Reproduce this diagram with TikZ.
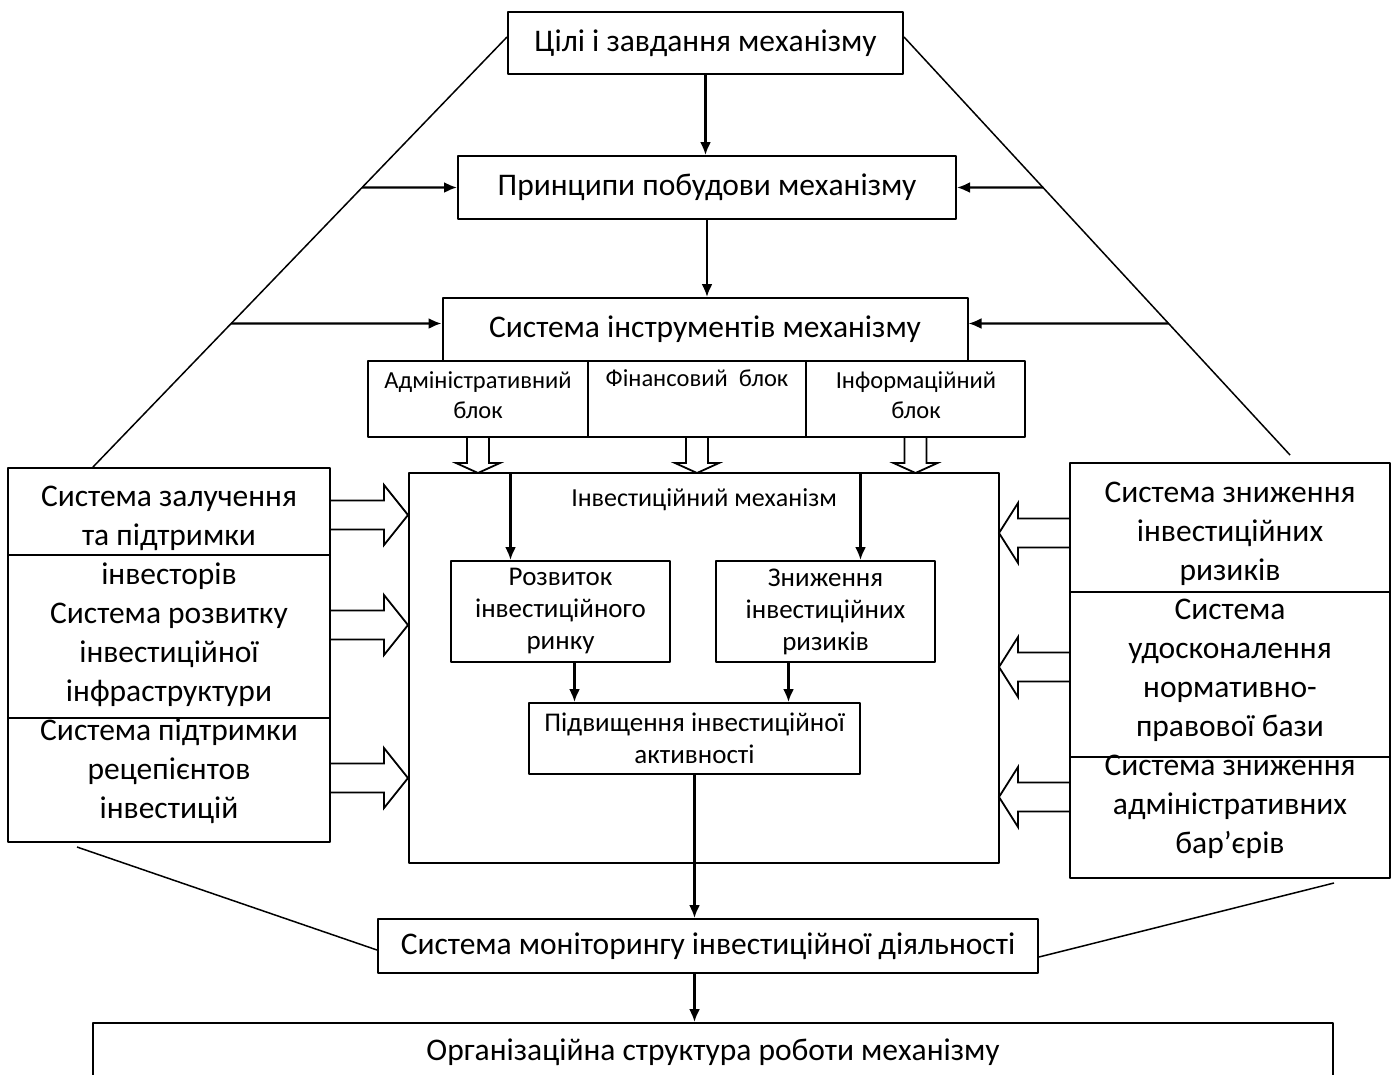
\documentclass[tikz,border=0pt]{standalone}
\usepackage{fontspec}
\setmainfont{Carlito}
\usetikzlibrary{arrows.meta,positioning}
\tikzset{
  box/.style={draw, line width=2pt, inner sep=2pt, align=center, font=\fontsize{31.5}{39}\selectfont},
  inbox/.style={draw, line width=2pt, inner sep=2pt, align=center, font=\fontsize{27}{32}\selectfont},
  small/.style={align=center, inner sep=0pt, font=\fontsize{24.5}{30}\selectfont},
  arr/.style={line width=2.2pt, -{Latex[length=13pt,width=11pt]}},
  slant/.style={line width=1.5pt},
  hollow/.pic={\draw[line width=1.8pt, line join=miter]
    (0,-\bshaft)--(\blen-\bhead,-\bshaft)--(\blen-\bhead,-\bwide)--(\blen,0)
    --(\blen-\bhead,\bwide)--(\blen-\bhead,\bshaft)--(0,\bshaft);}
}
\begin{document}
\begin{tikzpicture}[x=1pt, y=-1pt, line join=round]
\useasboundingbox (0,0) rectangle (1397,1074);
% top column of boxes
\node[box, minimum width=395pt, minimum height=62pt] (goals) at (705.5,43) {Цілі і завдання механізму};
\node[box, minimum width=498pt, minimum height=63pt] (princ) at (707,187.5) {Принципи побудови механізму};
\node[box, minimum width=525pt, minimum height=63pt] (instr) at (705,329.5) {Система інструментів механізму};
\node[draw, line width=2pt, minimum width=220pt, minimum height=76pt] (adm) at (478,399) {};
\node[draw, line width=2pt, minimum width=218pt, minimum height=76pt] (fin) at (697,399) {};
\node[draw, line width=2pt, minimum width=219pt, minimum height=76pt] (inf) at (915.5,399) {};
\node[small] (admtxt) at (478,395) {Адміністративний\\блок};
\node[small] (fintxt) at (697,378) {Фінансовий\ \ блок};
\node[small] (inftxt) at (916,395) {Інформаційний\\блок};
\draw[arr] (goals.south) -- (goals.south |- princ.north);
\draw[arr] (princ.south) -- (princ.south |- instr.north);
% mechanism
\node[draw, line width=2pt, minimum width=590pt, minimum height=390pt] (mech) at (704,668) {};
\node[font=\fontsize{26}{30}\selectfont] (mtitle) at (704,500) {Інвестиційний механізм};
\node[inbox, minimum width=219pt, minimum height=101pt] (dev) at (560.5,611.5) {Розвиток\\інвестиційного\\ринку};
\node[inbox, minimum width=219pt, minimum height=101pt] (risk) at (825.5,611.5) {Зниження\\інвестиційних\\ризиків};
\node[inbox, minimum width=331pt, minimum height=71pt] (act) at (694.5,738.5) {Підвищення інвестиційної\\активності};
\node[box, minimum width=660pt, minimum height=54pt] (mon) at (708,946) {Система моніторингу інвестиційної діяльності};
\node[box, minimum width=1240pt, minimum height=58pt] (org) at (713,1052) {Організаційна структура роботи механізму};
\coordinate (d1) at ([xshift=-50pt]dev.north);
\coordinate (r1) at ([xshift=35pt]risk.north);
\coordinate (d2) at ([xshift=14pt]dev.south);
\coordinate (r2) at ([xshift=-37pt]risk.south);
\draw[arr] (d1 |- mech.north) -- (d1);
\draw[arr] (r1 |- mech.north) -- (r1);
\draw[arr] (d2) -- (d2 |- act.north);
\draw[arr] (r2) -- (r2 |- act.north);
\draw[arr] (act.south) -- (act.south |- mon.north);
\draw[arr] (act.south |- mon.south) -- (act.south |- org.north);
% side systems
\node[box, minimum width=322pt, minimum height=374pt] (lcol) at (169,655)
  {Система залучення\\та підтримки\\інвесторів\\Система розвитку\\інвестиційної\\інфраструктури\\Система підтримки\\рецепієнтов\\інвестицій};
\node[box, minimum width=320pt, minimum height=415pt] (rcol) at (1230,670.5)
  {Система зниження\\інвестиційних\\ризиків\\Система\\удосконалення\\нормативно-\\правової бази\\Система зниження\\адміністративних\\бар’єрів};
\draw[line width=2pt] (lcol.west |- 0,555) -- (lcol.east |- 0,555) (lcol.west |- 0,718) -- (lcol.east |- 0,718);
\draw[line width=2pt] (rcol.west |- 0,592) -- (rcol.east |- 0,592) (rcol.west |- 0,757) -- (rcol.east |- 0,757);
% hollow arrows
\def\blen{35}\def\bhead{10}\def\bshaft{11}\def\bwide{22}
\foreach \c in {adm,fin,inf} \pic[rotate=-90] at (\c.south) {hollow};
\def\blen{77}\def\bhead{24}\def\bshaft{14.5}\def\bwide{30}
\foreach \y in {515,625,778} \pic at (lcol.east |- 0,\y) {hollow};
\def\blen{70}\def\bhead{19}
\foreach \y in {533,667,797} \pic[rotate=180] at (rcol.west |- 0,\y) {hollow};
% slanted lines
\coordinate (lt) at ([yshift=6pt]goals.west);
\coordinate (lb) at (lcol.north -| 93,0);
\coordinate (rt) at ([yshift=6pt]goals.east);
\coordinate (rb) at (1290,455);
\coordinate (lo) at (77,847);
\coordinate (ro) at (1334,883);
\draw[slant] (lt) -- (lb) (rt) -- (rb);
\draw[slant] (lo) -- ([yshift=-4pt]mon.west) (ro) -- ([yshift=-11pt]mon.east);
\coordinate (iw) at ([yshift=6pt]instr.west);
\coordinate (ie) at ([yshift=6pt]instr.east);
\draw[arr] (intersection of lt--lb and princ.west--princ.east) -- (princ.west);
\draw[arr] (intersection of rt--rb and princ.west--princ.east) -- (princ.east);
\draw[arr] (intersection of lt--lb and iw--ie) -- (iw);
\draw[arr] (intersection of rt--rb and iw--ie) -- (ie);
\end{tikzpicture}
\end{document}
